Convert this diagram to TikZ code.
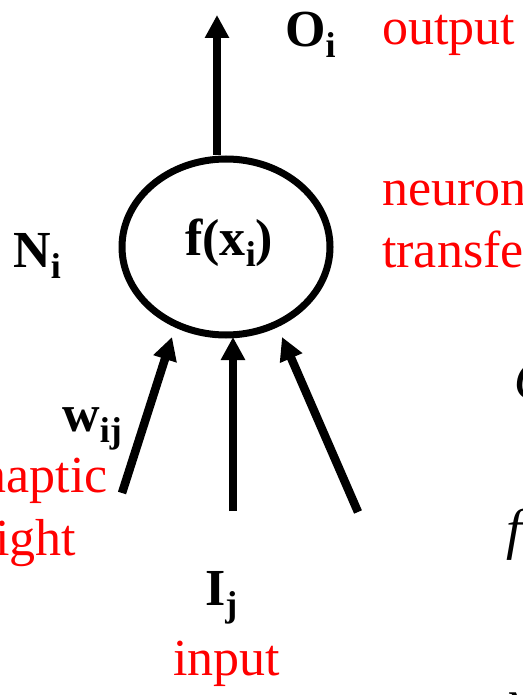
\documentclass[tikz,border=0pt]{standalone}
\usepackage{fontspec}
\setmainfont{Liberation Serif}
\usetikzlibrary{arrows.meta,shapes.geometric}
\newcommand\lbsub[1]{\raisebox{-11pt}{\fontsize{36}{36}\selectfont #1}}
\begin{document}
\begin{tikzpicture}[x=1pt,y=-1pt,
  big/.style={inner sep=0pt,font=\fontsize{52}{62}\selectfont},
  lbl/.style={big,font=\fontsize{52}{62}\selectfont\bfseries,anchor=base west},
  redtxt/.style={big,text=red,anchor=base west},
  mathtxt/.style={big,font=\fontsize{56}{62}\selectfont\itshape,anchor=base west},
  arr/.style={line width=8.5pt,-{Triangle[length=23pt,width=23pt]}},
  cell/.style={ellipse,draw,line width=7pt,minimum width=208pt,minimum height=176pt,inner sep=0pt}]
\useasboundingbox (0,0) rectangle (522,695);
\clip (0,0) rectangle (522,695);
% neuron
\node[cell] (neuron) at (226,247) {};
\node[lbl] (fx) at (185,255) {f(x\lbsub{i})};
% output arrow
\coordinate (outbase) at (217,155);
\coordinate (outtip) at (217,15);
\draw[arr] (outbase) -- (outtip);
% input arrows
\coordinate (in1) at (122,493);
\coordinate (t1) at (172,337);
\coordinate (in2) at (233,511);
\coordinate (t2) at (233,337);
\coordinate (in3) at (358,512);
\coordinate (t3) at (282,337);
\draw[arr] (in1) -- (t1);
\draw[arr] (in2) -- (t2);
\draw[arr] (in3) -- (t3);
% black labels
\node[lbl] (Oi) at (285,47) {O\lbsub{i}};
\node[lbl] (Ni) at (13,267) {N\lbsub{i}};
\node[lbl] (wij) at (62,431) {w\lbsub{ij}};
\node[lbl] (Ij) at (205,605) {I\lbsub{j}};
% red labels
\node[redtxt] (output) at (382,45) {output};
\node[redtxt] (neur) at (382,205) {neuron};
\node[redtxt] (transf) at (382,267) {transfer};
\node[redtxt,anchor=base east] (syn) at (108,492) {synaptic};
\node[redtxt] (wgt) at (syn.base west |- 0,555) {weight};
\node[redtxt] (input) at (173,675) {input};
% cut-off formula fragments at right edge
\node[mathtxt] (fO) at (514,399) {O};
\node[mathtxt] (ff) at (506,548) {f};
\node[mathtxt] (fx2) at (506,718) {x};
\end{tikzpicture}
\end{document}
